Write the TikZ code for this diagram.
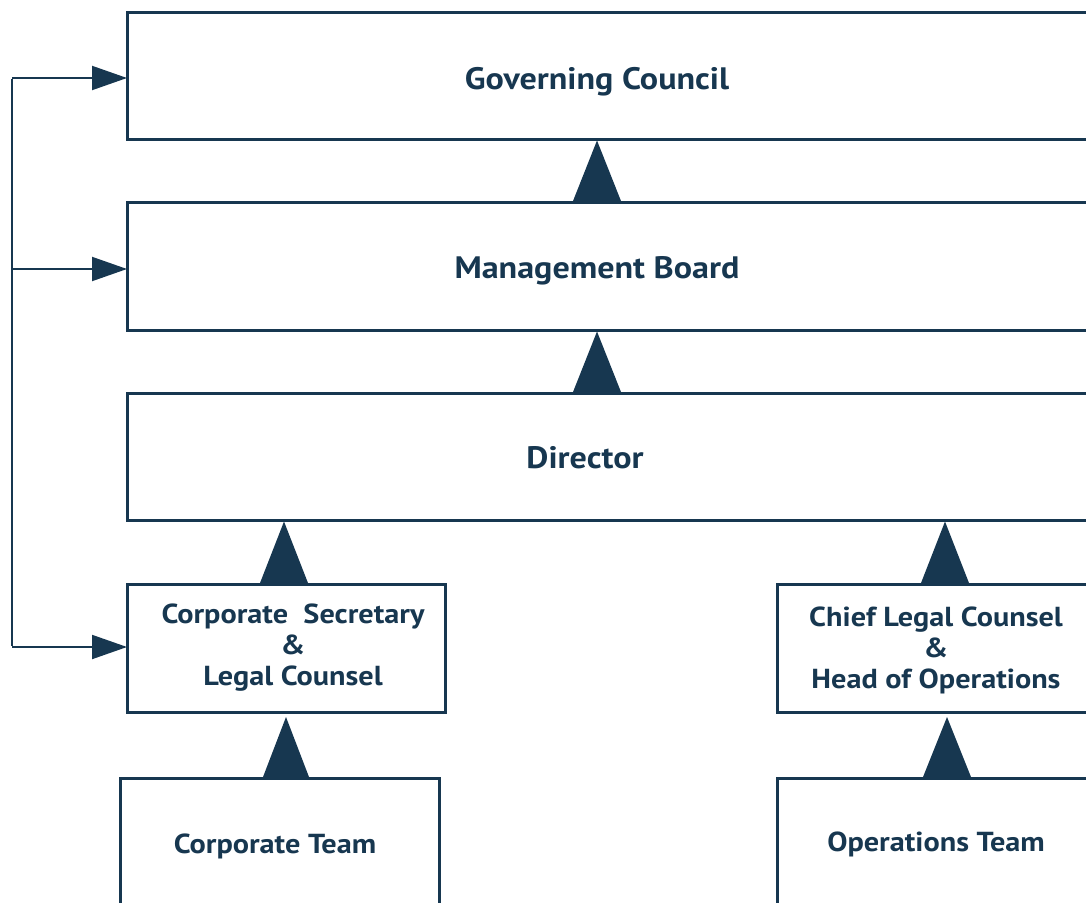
\documentclass[tikz,border=0pt]{standalone}
\usepackage{fontspec}
\setmainfont[FakeStretch=1.1]{PT Sans}
\usetikzlibrary{arrows.meta,calc}
\definecolor{navy}{RGB}{23,55,80}
\begin{document}
\begin{tikzpicture}[x=1pt,y=-1pt,
  box/.style={draw=navy, line width=3pt, inner sep=0pt, outer sep=0pt, anchor=north west},
  lbl/.style={text=navy, font=\bfseries\fontsize{31}{34}\selectfont, align=center, inner sep=0pt},
  slbl/.style={text=navy, font=\bfseries\fontsize{27.5}{31}\selectfont, align=center, inner sep=0pt},
  tri/.style={fill=navy, draw=none},
  side/.style={draw=navy, line width=2pt, -{Triangle[length=35pt,width=24pt]}}]
\useasboundingbox (0,0) rectangle (1086,902);
\clip (0,0) rectangle (1086,902);
% boxes
\node[box, minimum width=990pt, minimum height=127pt] (gc) at (127,12) {};
\node[box, minimum width=990pt, minimum height=128pt] (mb) at (127,202) {};
\node[box, minimum width=990pt, minimum height=127pt] (dir) at (127,393) {};
\node[box, minimum width=318pt, minimum height=128pt] (cs) at (127,584) {};
\node[box, minimum width=340pt, minimum height=128pt] (cl) at (777,584) {};
\node[box, minimum width=319pt, minimum height=160pt] (ct) at (120,778) {};
\node[box, minimum width=340pt, minimum height=160pt] (ot) at (777,778) {};
% texts
\node[lbl] (gct) at (597,82) {Governing Council};
\node[lbl] (mbt) at (597,271) {Management Board};
\node[lbl] (dirt) at (585,458) {Director};
\node[slbl] (cst) at (293,648) {Corporate~ Secretary\\\&\\Legal Counsel};
\node[slbl] (clt) at (936,650) {Chief Legal Counsel\\\&\\Head of Operations};
\node[slbl] (ctt) at (275,846) {Corporate Team};
\node[slbl] (ott) at (936,844) {Operations Team};
% vertical triangle connectors
\coordinate (xa) at (597,0);
\coordinate (xb) at (284,0);
\coordinate (xc) at (286,0);
\coordinate (xd) at (945,0);
\coordinate (xe) at (947,0);
\fill[tri] ($(mb.north -| xa)+(-24,-1)$) -- ($(gc.south -| xa)+(0,1.5)$) -- ($(mb.north -| xa)+(24,-1)$) -- cycle;
\fill[tri] ($(dir.north -| xa)+(-24,-1)$) -- ($(mb.south -| xa)+(0,1.5)$) -- ($(dir.north -| xa)+(24,-1)$) -- cycle;
\fill[tri] ($(cs.north -| xb)+(-24,-1)$) -- ($(dir.south -| xb)+(0,1.5)$) -- ($(cs.north -| xb)+(24,-1)$) -- cycle;
\fill[tri] ($(ct.north -| xc)+(-23,-1)$) -- ($(cs.south -| xc)+(0,5)$) -- ($(ct.north -| xc)+(23,-1)$) -- cycle;
\fill[tri] ($(cl.north -| xd)+(-24,-1)$) -- ($(dir.south -| xd)+(0,1.5)$) -- ($(cl.north -| xd)+(24,-1)$) -- cycle;
\fill[tri] ($(ot.north -| xe)+(-24,-1)$) -- ($(cl.south -| xe)+(0,5)$) -- ($(ot.north -| xe)+(24,-1)$) -- cycle;
% side spine
\coordinate (s1) at (12,78);
\coordinate (s2) at (12,269);
\coordinate (s3) at (12,647);
\draw[navy, line width=2pt] ([yshift=-1pt]s1) -- ([yshift=1pt]s3);
\draw[side] (s1) -- (gc.west |- s1);
\draw[side] (s2) -- (mb.west |- s2);
\draw[side] (s3) -- (cs.west |- s3);
\end{tikzpicture}
\end{document}
